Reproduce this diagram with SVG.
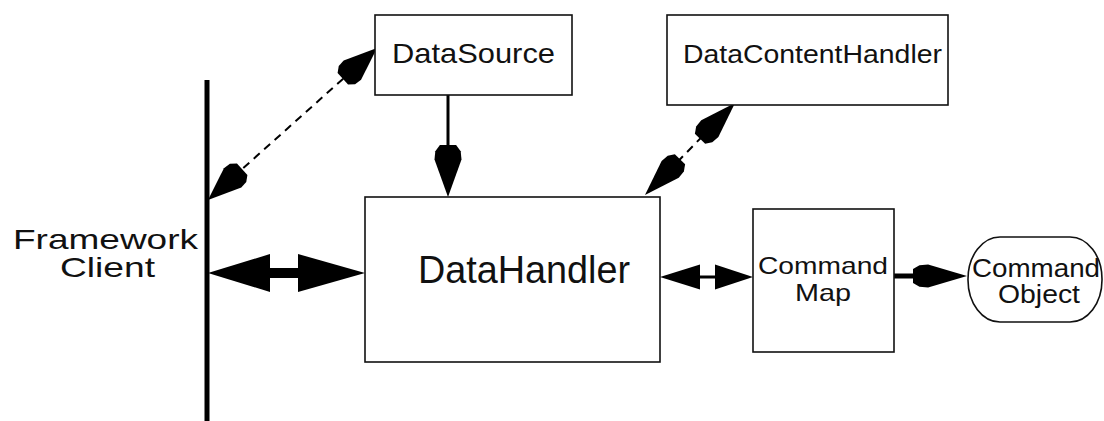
<svg xmlns="http://www.w3.org/2000/svg" width="1104" height="421" viewBox="0 0 1104 421">
<style>
.box{fill:#fff;stroke:#111;stroke-width:1.6}
.t{font-family:"Liberation Sans",Arial,sans-serif;fill:#111;text-anchor:middle}
.line{stroke:#000;fill:none}
.dash{stroke:#000;stroke-width:2;stroke-dasharray:8 6;fill:none}
.head{fill:#000}
</style>
<defs>
<path id="kite" d="M0,0 L-0.72,-0.5 L-0.88,-0.47 L-1,-0.3 L-1,0.3 L-0.88,0.47 L-0.72,0.5 Z"/>
<path id="tri" d="M0,0 L-1,-0.5 L-1,0.5 Z"/>
</defs>
<rect width="1104" height="421" fill="#fff"/>
<g id="connectors">
<line class="line" x1="207" y1="80" x2="207" y2="421" stroke-width="5"/>
<line class="dash" x1="212" y1="196" x2="373" y2="52"/>
<use href="#kite" class="head" transform="translate(377,48) rotate(-42) scale(46,26)"/>
<use href="#kite" class="head" transform="translate(208,200) rotate(138) scale(46,26)"/>
<line class="dash" x1="648" y1="192" x2="732" y2="106"/>
<use href="#kite" class="head" transform="translate(735,103) rotate(-45.6) scale(50,24)"/>
<use href="#kite" class="head" transform="translate(645,195) rotate(134.4) scale(50,24)"/>
<line class="line" x1="448" y1="95" x2="448" y2="180" stroke-width="3"/>
<use href="#kite" class="head" transform="translate(448,197) rotate(90) scale(52,27)"/>
<line class="line" x1="240" y1="273" x2="330" y2="273" stroke-width="10"/>
<use href="#tri" class="head" transform="translate(208,273) rotate(180) scale(62,38)"/>
<use href="#tri" class="head" transform="translate(365,273) scale(67,38)"/>
<line class="line" x1="675" y1="277" x2="740" y2="277" stroke-width="3"/>
<use href="#tri" class="head" transform="translate(660,277) rotate(180) scale(40,25)"/>
<use href="#tri" class="head" transform="translate(753,277) scale(38,25)"/>
<line class="line" x1="894" y1="276" x2="945" y2="276" stroke-width="5"/>
<use href="#kite" class="head" transform="translate(967,276) scale(54,23)"/>
</g>
<g id="framework-client">
<text class="t" x="105.5" y="249" font-size="28" textLength="185" lengthAdjust="spacingAndGlyphs">Framework</text>
<text class="t" x="107.5" y="277" font-size="28" textLength="95" lengthAdjust="spacingAndGlyphs">Client</text>
</g>
<g id="datasource">
<rect class="box" x="375" y="15" width="197" height="80"/>
<text class="t" x="473.5" y="63" font-size="28" textLength="163" lengthAdjust="spacingAndGlyphs">DataSource</text>
</g>
<g id="datacontenthandler">
<rect class="box" x="667" y="15" width="281" height="90"/>
<text class="t" x="812.5" y="63" font-size="26" textLength="259" lengthAdjust="spacingAndGlyphs">DataContentHandler</text>
</g>
<g id="datahandler">
<rect class="box" x="365" y="197" width="295" height="165"/>
<text class="t" x="524" y="283" font-size="38" textLength="212" lengthAdjust="spacingAndGlyphs">DataHandler</text>
</g>
<g id="commandmap">
<rect class="box" x="753" y="209" width="141" height="143"/>
<text class="t" x="823" y="274" font-size="24" textLength="130" lengthAdjust="spacingAndGlyphs">Command</text>
<text class="t" x="823" y="301" font-size="24" textLength="56" lengthAdjust="spacingAndGlyphs">Map</text>
</g>
<g id="commandobject">
<rect class="box" x="968" y="237" width="134" height="85" rx="32" ry="42"/>
<text class="t" x="1036" y="277" font-size="25" textLength="128" lengthAdjust="spacingAndGlyphs">Command</text>
<text class="t" x="1039" y="303" font-size="25" textLength="82" lengthAdjust="spacingAndGlyphs">Object</text>
</g>
</svg>
